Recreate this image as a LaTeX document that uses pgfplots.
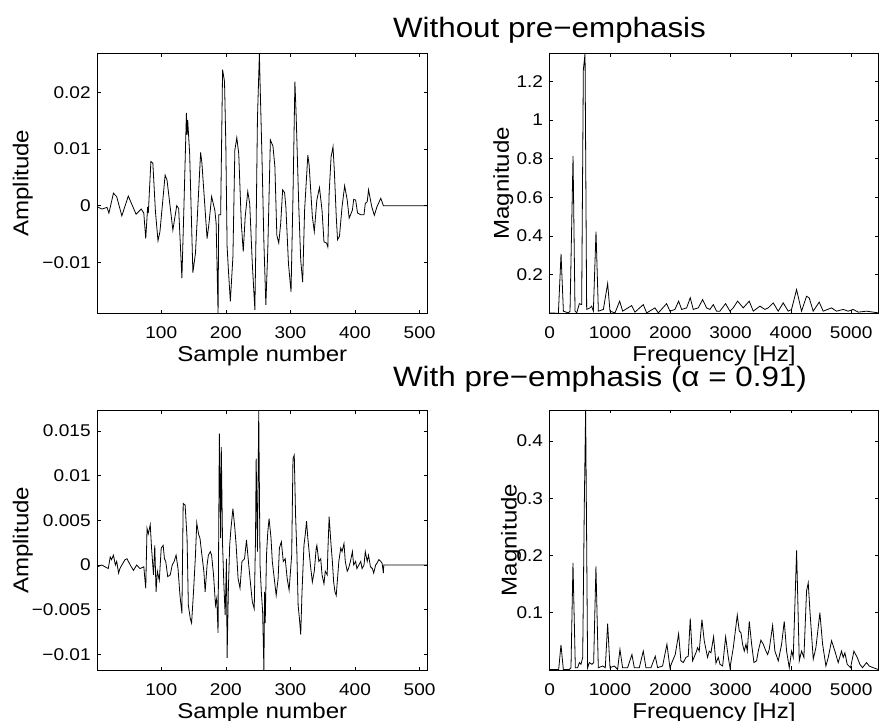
\documentclass[border=0pt]{standalone}
\usepackage{fontspec}
\setmainfont{Liberation Sans}[FakeStretch=1.12]
\usepackage{pgfplots}
\pgfplotsset{compat=1.18}
\newcommand\tickfont{\fontsize{17bp}{20bp}\selectfont}
\newcommand\labfont{\fontsize{21.5bp}{25bp}\selectfont}
\newcommand\titfont{\fontsize{28bp}{32bp}\selectfont}
\pgfplotsset{
  mat/.style={scale only axis, anchor=south west,
    axis line style={line width=0.9bp,black},
    tick align=inside, xtick pos=both, ytick pos=both,
    xticklabel pos=lower, yticklabel pos=left,
    scaled x ticks=false, scaled y ticks=false,
    major tick length=3.5bp, tick style={line width=0.6bp,black},
    xticklabel style={font=\tickfont, anchor=base, inner sep=0pt, yshift=-25bp},
    yticklabel style={font=\tickfont, anchor=east, inner sep=0pt, xshift=-6.5bp},
    every axis x label/.style={at={(axis description cs:0.5,0)}, anchor=base, yshift=-48bp, font=\labfont},
    every axis y label/.style={rotate=90, anchor=base, font=\labfont},
    cycle list={{black, line width=0.8bp, mark=none}},
  }
}
\begin{document}
\begin{tikzpicture}
\useasboundingbox (0,0) rectangle (879bp,721bp);
% ---------------- top left
\begin{axis}[mat, at={(97.3bp,407.7bp)}, width=330bp, height=260bp,
  xmin=1, xmax=512, ymin=-0.019, ymax=0.0269,
  xtick={100,200,300,400,500}, xticklabels={100,200,300,400,500},
  ytick={-0.01,0,0.01,0.02}, yticklabels={−0.01,0,0.01,0.02},
  xlabel={Sample number}, ylabel={Amplitude},
  ylabel style={at={(axis description cs:-0.209,0.5)}}]
\addplot[black, line width=0.8bp] coordinates {
(1,-0.0002)(8,-0.0006)(16,-0.0003)(19,-0.0013)(26,0.0022)(31,0.0016)(39,-0.0018)(49,0.0017)
(61,-0.0015)(69,-0.0006)(73,-0.0013)(76,-0.0058)(79,-0.0002)(80,-0.0013)(84,0.0078)(87,0.0075)
(88,0.0054)(91,-0.001)(95,-0.0062)(98,-0.0046)(106,0.0054)(109,0.0045)(118,-0.0043)(124,0)
(127,-0.0005)(132,-0.0128)(135,-0.0008)(139,0.0164)(140,0.0125)(141,0.0151)(144,0.0092)
(149,-0.0118)(153,-0.0084)(161,0.0094)(163,0.0075)(171,-0.0058)(174,-0.0031)(178,0.0016)
(183,-0.0008)(185,-0.0031)(188,-0.019)(189,-0.0016)(192,-0.0016)(195,0.024)(198,0.0219)
(200,0.011)(202,-0.0072)(204,-0.0113)(207,-0.0169)(211,-0.009)(214,0.0098)(217,0.012)
(220,0.0092)(224,-0.0031)(227,-0.0081)(230,-0.002)(234,0.0025)(237,0.0004)(241,-0.0102)
(245,-0.0184)(247,-0.0031)(249,0.0154)(252,0.0269)(253,0.0219)(256,0.0086)(259,-0.0066)
(262,-0.0175)(265,-0.0078)(269,0.0116)(273,0.0105)(276,0.0069)(279,-0.0052)(282,-0.0066)
(285,-0.0031)(288,0.0028)(291,0.0023)(293,-0.0002)(297,-0.0102)(301,-0.0152)(304,0.0016)
(307,0.0219)(309,0.0157)(313,-0.0002)(316,-0.0096)(319,-0.0135)(322,-0.0008)(327,0.0089)
(329,0.0072)(334,-0.0019)(337,-0.0046)(341,0.001)(345,0.0032)(349,-0.0008)(352,-0.0064)
(356,-0.0066)(358,-0.0073)(360,0.0022)(363,0.0086)(366,0.0104)(368,0.0063)(371,-0.0019)
(373,-0.006)(376,-0.0054)(380,-0.0002)(384,0.0035)(388,0.001)(391,-0.0022)(396,-0.0008)
(398,0.0011)(401,0.001)(404,-0.0013)(409,-0.0016)(414,-0.0016)(416,0.0004)(419,0.0007)
(421,0.0028)(426,-0.0002)(430,-0.0017)(434,-0.0002)(440,0.0013)(444,0)(512,0)
};
\end{axis}
% ---------------- top right
\begin{axis}[mat, at={(549.7bp,407.7bp)}, width=328.6bp, height=260bp,
  xmin=0, xmax=5450, ymin=0, ymax=1.346,
  xtick={0,1000,2000,3000,4000,5000}, xticklabels={0,1000,2000,3000,4000,5000},
  ytick={0.2,0.4,0.6,0.8,1,1.2}, yticklabels={0.2,0.4,0.6,0.8,1,1.2},
  xlabel={Frequency [Hz]}, ylabel={Magnitude},
  ylabel style={at={(axis description cs:-0.124,0.5)}}]
\addplot[black, line width=0.8bp] coordinates {
(0,0.002)(144,0)(188,0.308)(227,0.011)(309,0.002)(337,0.011)(387,0.815)(420,0.011)(448,0.002)
(492,0.05)(530,0.045)(558,1.26)(586,1.346)(613,0.02)(669,0.028)(696,0.037)(724,0.011)(768,0.423)
(807,0.011)(890,0.02)(961,0.154)(1000,0.011)(1083,0.002)(1160,0.063)(1210,0.011)(1359,0.04)
(1414,0.006)(1552,0.045)(1608,0.002)(1746,0.028)(1801,0.002)(1939,0.05)(1994,0.011)(2077,0.02)
(2138,0.063)(2188,0.02)(2271,0.028)(2331,0.08)(2381,0.02)(2464,0.028)(2536,0.071)(2602,0.028)
(2657,0.02)(2713,0.045)(2768,0.011)(2823,0.011)(2917,0.05)(2989,0.011)(3044,0.028)(3116,0.063)
(3210,0.028)(3309,0.063)(3376,0.011)(3486,0.037)(3569,0.02)(3624,0.028)(3707,0.054)(3790,0.011)
(3873,0.054)(3956,0.011)(4011,0.02)(4094,0.123)(4177,0.011)(4260,0.088)(4304,0.08)(4370,0.011)
(4470,0.058)(4536,0.011)(4674,0.028)(4757,0.011)(4867,0.02)(4950,0.011)(5033,0.02)(5116,0.006)
(5254,0.011)(5365,0.006)(5459,0.002)
};
\end{axis}
% ---------------- bottom left
\begin{axis}[mat, at={(97.3bp,51bp)}, width=330bp, height=259.3bp,
  xmin=1, xmax=512, ymin=-0.01175, ymax=0.01727,
  xtick={100,200,300,400,500}, xticklabels={100,200,300,400,500},
  ytick={-0.01,-0.005,0,0.005,0.01,0.015}, yticklabels={−0.01,−0.005,0,0.005,0.01,0.015},
  xlabel={Sample number}, ylabel={Amplitude},
  ylabel style={at={(axis description cs:-0.209,0.5)}}]
\addplot[black, line width=0.8bp] coordinates {
(1,-0.0002)(8,0)(13,-0.0002)(18,-0.0004)(21,0.0009)(23,0.0006)(26,0.0011)(29,0)(31,0.0004)
(34,-0.0009)(36,-0.0004)(39,0)(44,0.0006)(47,0.0007)(52,0)(57,-0.0006)(62,0)(67,-0.0004)
(73,-0.0002)(76,-0.0026)(78,0.0041)(80,0.0035)(83,0.0045)(85,0.0019)(88,-0.0011)(90,0.0022)
(92,-0.003)(94,-0.0007)(97,-0.0017)(100,0.0019)(103,0.0022)(105,0.0007)(107,0.0004)(110,-0.0013)
(114,-0.0011)(117,0)(120,0.0004)(123,0.0011)(126,-0.0004)(129,-0.0034)(132,-0.0054)(134,0.0069)
(137,0.0067)(140,0.003)(142,-0.0045)(145,-0.006)(147,-0.0065)(150,-0.003)(153,0.0011)(155,0.0047)
(158,0.0034)(160,0.003)(163,0.0011)(166,-0.0007)(168,-0.003)(171,0)(173,0.0011)(176,0.0015)
(178,0.0011)(181,-0.0011)(184,-0.0045)(186,-0.0037)(188,-0.0076)(190,0.0147)(192,0.003)
(193,0.0132)(195,0.0022)(197,-0.0022)(199,-0.0056)(201,0.0007)(202,-0.0104)(204,-0.0026)
(206,0.0022)(208,0.0041)(211,0.0063)(214,0.0041)(216,0.0022)(219,-0.0015)(222,-0.0026)
(225,0.0004)(229,0.0007)(232,0.0028)(235,0.0004)(238,-0.0019)(241,-0.0041)(244,-0.0049)
(246,0.003)(247,0.0119)(249,0.0015)(251,0.0173)(253,0)(255,-0.003)(257,-0.0052)(259,-0.0118)
(260,-0.003)(261,-0.0065)(263,0.0011)(265,0.0037)(267,0.0052)(270,0.003)(272,0.0004)
(275,-0.0015)(278,-0.0034)(281,-0.0015)(283,0.0019)(286,0.0026)(289,0.0004)(292,0.0007)
(295,-0.0015)(298,-0.0028)(302,0.0011)(304,0.0119)(306,0.0123)(308,0.0056)(310,0.0015)
(312,-0.0045)(314,-0.006)(316,-0.0078)(318,-0.003)(321,0.0022)(323,0.0034)(325,0.0049)
(327,0.003)(331,0)(334,-0.0019)(337,-0.0007)(340,0.0019)(341,0.0022)(344,0.0004)(347,0.0007)
(349,-0.0011)(352,-0.0021)(354,-0.0007)(357,-0.0011)(358,0.0015)(360,0.0054)(363,0.0022)
(365,0.0004)(367,-0.0019)(369,-0.003)(371,-0.0034)(373,-0.0015)(375,0.0004)(378,0.0019)
(380,0.0015)(383,0.0024)(385,0.0004)(388,-0.0007)(390,-0.0004)(393,0.0004)(396,0.0015)(398,0)
(401,0.0004)(403,-0.0004)(406,0)(409,0.0004)(411,-0.0004)(414,0)(416,0.0015)(419,0.0004)
(421,0.0011)(424,-0.0002)(427,-0.0004)(429,-0.0009)(432,0)(434,0.0002)(437,0.0006)(440,0.0004)
(442,0.0002)(444,-0.0009)(444.5,0)(512,0)
};
\end{axis}
% ---------------- bottom right
\begin{axis}[mat, at={(549.7bp,51bp)}, width=328.6bp, height=260bp,
  xmin=0, xmax=5450, ymin=0, ymax=0.454,
  xtick={0,1000,2000,3000,4000,5000}, xticklabels={0,1000,2000,3000,4000,5000},
  ytick={0.1,0.2,0.3,0.4}, yticklabels={0.1,0.2,0.3,0.4},
  xlabel={Frequency [Hz]}, ylabel={Magnitude},
  ylabel style={at={(axis description cs:-0.101,0.5)}}]
\addplot[black, line width=0.8bp] coordinates {
(0,0.001)(149,0.001)(187,0.044)(226,0.001)(325,0.001)(353,0.004)(386,0.187)(425,0.004)(464,0.004)
(491,0.013)(519,0.01)(547,0.022)(574,0.289)(596,0.454)(629,0.004)(657,0.013)(701,0.01)(729,0.013)
(767,0.181)(806,0.004)(878,0.007)(922,0.004)(961,0.081)(1000,0.004)(1071,0.007)(1126,0.001)
(1165,0.036)(1209,0.004)(1292,0.004)(1364,0.027)(1403,0.004)(1486,0.004)(1552,0.033)(1596,0.004)
(1679,0.004)(1751,0.024)(1790,0.004)(1872,0.007)(1944,0.045)(1994,0.004)(2038,0.016)(2082,0.027)
(2138,0.063)(2176,0.016)(2215,0.013)(2259,0.022)(2298,0.024)(2331,0.09)(2370,0.016)(2425,0.03)
(2453,0.039)(2480,0.033)(2525,0.088)(2563,0.051)(2618,0.022)(2646,0.033)(2674,0.03)(2718,0.058)
(2757,0.012)(2796,0.022)(2824,0.01)(2868,0.007)(2918,0.058)(2962,0.022)(2990,0.004)(3045,0.039)
(3111,0.096)(3144,0.068)(3172,0.065)(3199,0.045)(3227,0.033)(3255,0.045)(3277,0.033)(3310,0.085)
(3349,0.045)(3387,0.013)(3431,0.016)(3459,0.033)(3503,0.052)(3542,0.045)(3586,0.033)(3614,0.027)
(3641,0.036)(3697,0.078)(3735,0.033)(3791,0.016)(3846,0.045)(3890,0.085)(3929,0.033)(3973,0.004)
(4012,0.033)(4039,0.022)(4095,0.209)(4139,0.016)(4177,0.033)(4216,0.022)(4260,0.138)(4288,0.152)
(4316,0.103)(4371,0.019)(4415,0.039)(4481,0.1)(4526,0.045)(4581,0.007)(4620,0.022)(4675,0.051)
(4730,0.033)(4785,0.013)(4840,0.033)(4868,0.022)(4896,0.03)(4934,0.01)(4990,0.004)(5045,0.033)
(5100,0.022)(5144,0.01)(5188,0.004)(5255,0.013)(5299,0.007)(5365,0.004)(5448,0.001)
};
\end{axis}
\node[font=\titfont, anchor=base] at (549.5bp,683.7bp) {Without pre−emphasis};
\node[font=\titfont, anchor=base] at (600bp,334bp) {With pre−emphasis (α = 0.91)};
\end{tikzpicture}
\end{document}
